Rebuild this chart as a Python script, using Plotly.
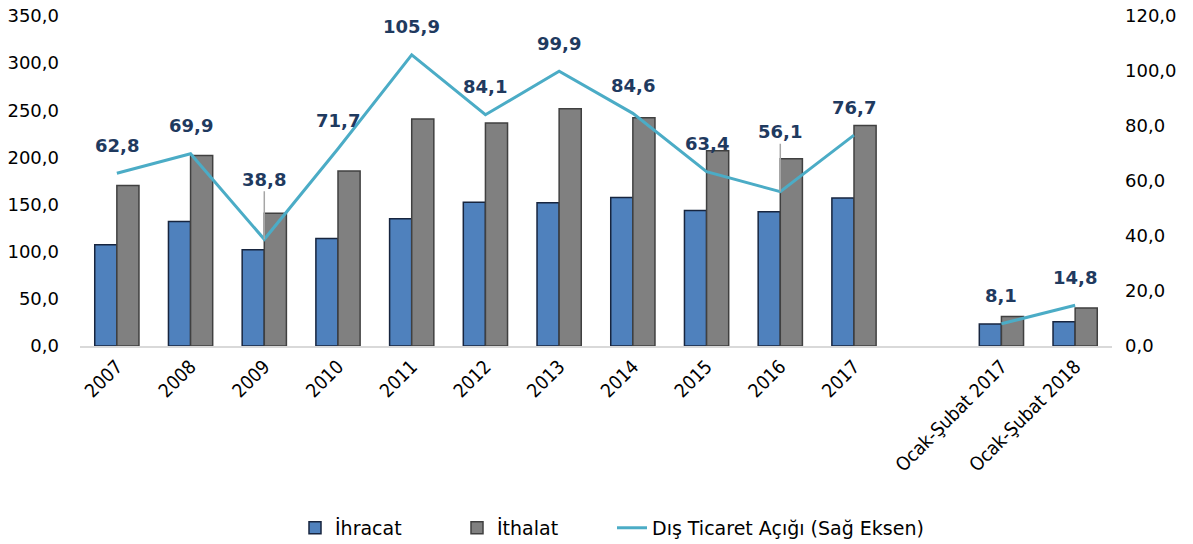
import plotly.graph_objects as go

categories = ["2007", "2008", "2009", "2010", "2011", "2012", "2013", "2014",
              "2015", "2016", "2017", " ", "Ocak-Şubat 2017", "Ocak-Şubat 2018"]
ihracat = [107.3, 132.0, 102.1, 113.9, 134.9, 152.5, 151.8, 157.6,
           143.8, 142.5, 157.0, None, 23.3, 25.6]
ithalat = [170.1, 202.0, 140.9, 185.5, 240.8, 236.5, 251.7, 242.2,
           207.2, 198.6, 233.8, None, 31.4, 40.4]
acik = [62.8, 69.9, 38.8, 71.7, 105.9, 84.1, 99.9, 84.6,
        63.4, 56.1, 76.7, None, 8.1, 14.8]
labels = ["62,8", "69,9", "38,8", "71,7", "105,9", "84,1", "99,9", "84,6",
          "63,4", "56,1", "76,7", "", "8,1", "14,8"]
left_ticks = [0, 50, 100, 150, 200, 250, 300, 350]
right_ticks = [0, 20, 40, 60, 80, 100, 120]

def fmt(v):
    return f"{v:.1f}".replace(".", ",")

W, H = 1185, 536  # page body adds an 8px margin

fig = go.Figure()
fig.add_trace(go.Bar(x=categories, y=ihracat, name="İhracat", legend="legend",
                     marker=dict(color="#4F81BD", line=dict(color="#17253F", width=1.5))))
fig.add_trace(go.Bar(x=categories, y=ithalat, name="İthalat", legend="legend2",
                     marker=dict(color="#808080", line=dict(color="#404040", width=1.5))))

fig.add_trace(go.Scatter(x=categories[:11], y=acik[:11], name="Dış Ticaret Açığı (Sağ Eksen)",
                         legend="legend3",
                         mode="lines", line=dict(color="#4BACC6", width=3), yaxis="y2"))
fig.add_trace(go.Scatter(x=categories[12:], y=acik[12:], name="Dış Ticaret Açığı (Sağ Eksen)",
                         mode="lines", line=dict(color="#4BACC6", width=3), yaxis="y2",
                         showlegend=False))

leader = {"38,8", "56,1"}
lab_font = dict(family="DejaVu Sans", size=18, color="#1F3A5F")
for i, (v, t) in enumerate(zip(acik, labels)):
    if v is None:
        continue
    if t in leader:
        fig.add_annotation(x=i, y=v, xref="x", yref="y2", text=f"<b>{t}</b>",
                           showarrow=True, arrowhead=0, arrowwidth=1.5,
                           arrowcolor="#A6A6A6", ax=0, ay=-60, font=lab_font)
    else:
        fig.add_annotation(x=i, y=v, xref="x", yref="y2", text=f"<b>{t}</b>",
                           showarrow=False, yshift=28, font=lab_font)

tick_font = dict(family="DejaVu Sans", size=18, color="#000000")
leg_common = dict(orientation="h", xanchor="left", xref="container",
                  y=0.03, yanchor="middle", yref="container",
                  font=dict(family="DejaVu Sans", size=19, color="#000"),
                  itemwidth=30, bgcolor="rgba(0,0,0,0)")
fig.update_layout(
    width=W, height=H,
    margin=dict(l=72, r=81, t=8, b=198, autoexpand=False),
    plot_bgcolor="white", paper_bgcolor="white",
    barmode="group", bargap=0.4, bargroupgap=0,
    xaxis=dict(type="category", categoryorder="array", categoryarray=categories,
               range=[-0.5, len(categories) - 0.5], automargin=False,
               tickangle=-45, tickfont=dict(family="DejaVu Sans Condensed", size=19, color="#000"),
               showline=True, linecolor="#D9D9D9", linewidth=2, ticks="", showgrid=False),
    yaxis=dict(range=[0, 350], tickvals=left_ticks, ticktext=[fmt(v) for v in left_ticks],
               tickfont=tick_font, showgrid=False, zeroline=False, showline=False,
               automargin=False, ticklabelstandoff=20, ticklabeloverflow="allow"),
    yaxis2=dict(range=[0, 120], tickvals=right_ticks, ticktext=[fmt(v) for v in right_ticks],
                tickfont=tick_font, overlaying="y", side="right", showgrid=False,
                zeroline=False, showline=False, automargin=False, ticklabelstandoff=12,
                ticklabeloverflow="allow"),
    legend=dict(x=287 / W, **leg_common),
    legend2=dict(x=449 / W, **leg_common),
    legend3=dict(x=604 / W, **leg_common),
    showlegend=True,
)

fig.write_html("out.html")
